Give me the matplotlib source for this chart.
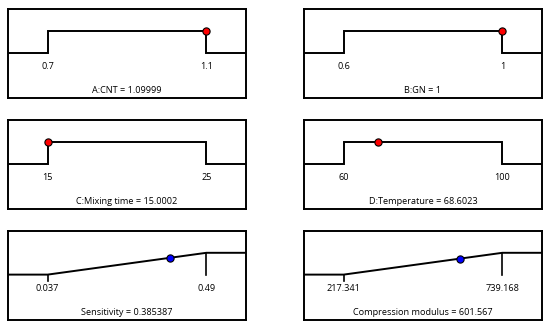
import matplotlib.pyplot as plt

# factors (desirability ramps for inputs)
factor_names = ["A:CNT", "B:GN", "C:Mixing time", "D:Temperature"]
factor_lo = [0.7, 0.6, 15, 60]
factor_hi = [1.1, 1, 25, 100]
factor_lo_lbl = ["0.7", "0.6", "15", "60"]
factor_hi_lbl = ["1.1", "1", "25", "100"]
factor_val = [1.09999, 1, 15.0002, 68.6023]
factor_val_lbl = ["1.09999", "1", "15.0002", "68.6023"]

# responses (maximize ramps)
resp_names = ["Sensitivity", "Compression modulus"]
resp_lo = [0.037, 217.341]
resp_hi = [0.49, 739.168]
resp_lo_lbl = ["0.037", "217.341"]
resp_hi_lbl = ["0.49", "739.168"]
resp_val = [0.385387, 601.567]
resp_val_lbl = ["0.385387", "601.567"]

plt.rcParams['font.family'] = ['Open Sans', 'DejaVu Sans']
FS = 6.6
LOW, HIGH = 0.51, 0.755

fig = plt.figure(figsize=(5.5, 3.31), dpi=100)

col_x = [8 / 550, 304 / 550]
row_b = [1 - 98 / 331, 1 - 209 / 331, 1 - 320 / 331]
w, h = 238 / 550, 89 / 331


def panel(ax, lo, hi, lo_lbl, hi_lbl, val, title, ramp, color):
    r = hi - lo
    x0, x1 = lo - 0.25 * r, hi + 0.25 * r
    ax.set_xlim(x0, x1)
    ax.set_ylim(0, 1)
    if ramp:
        ax.plot([x0, lo, hi, x1], [LOW, LOW, HIGH, HIGH], color='black', lw=1.4,
                solid_joinstyle='miter')
        ax.plot([lo, lo], [LOW, LOW - 0.07], color='black', lw=1.2)
        ax.plot([hi, hi], [HIGH, LOW], color='black', lw=1.2)
        yv = LOW + (val - lo) / r * (HIGH - LOW)
    else:
        ax.plot([x0, lo, lo, hi, hi, x1], [LOW, LOW, HIGH, HIGH, LOW, LOW],
                color='black', lw=1.4, solid_joinstyle='miter')
        yv = HIGH
    ax.plot([val], [yv], 'o', color=color, mec='black', mew=0.8, ms=5.2, zorder=5)
    ax.text(lo, 0.35, lo_lbl, ha='center', va='center', fontsize=FS)
    ax.text(hi, 0.35, hi_lbl, ha='center', va='center', fontsize=FS)
    ax.text(0.5, 0.08, title, transform=ax.transAxes, ha='center', va='center',
            fontsize=FS)
    ax.set_xticks([])
    ax.set_yticks([])
    for s in ax.spines.values():
        s.set_linewidth(1.4)


for i in range(4):
    ax = fig.add_axes([col_x[i % 2], row_b[i // 2], w, h])
    panel(ax, factor_lo[i], factor_hi[i], factor_lo_lbl[i], factor_hi_lbl[i],
          factor_val[i], f"{factor_names[i]} = {factor_val_lbl[i]}", False, '#ff0000')

for i in range(2):
    ax = fig.add_axes([col_x[i], row_b[2], w, h])
    panel(ax, resp_lo[i], resp_hi[i], resp_lo_lbl[i], resp_hi_lbl[i],
          resp_val[i], f"{resp_names[i]} = {resp_val_lbl[i]}", True, '#0000ff')

fig.savefig("out.png", dpi=100)
